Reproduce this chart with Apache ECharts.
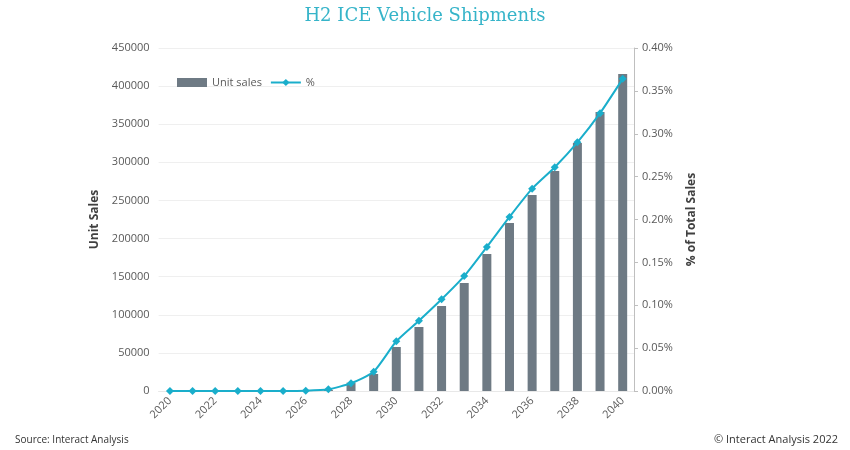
<!DOCTYPE html>
<html>
<head>
<meta charset="utf-8">
<script src="https://cdn.jsdelivr.net/npm/echarts@6/dist/echarts.min.js"></script>
<style>html,body{margin:0;padding:0;background:#fff}#c{width:850px;height:450px}</style>
</head>
<body>
<div id="c"></div>
<script>
const years = ['2020','2021','2022','2023','2024','2025','2026','2027','2028','2029','2030','2031','2032','2033','2034','2035','2036','2037','2038','2039','2040'];
const unitSales = [0,0,0,0,0,0,300,1500,10900,22300,57700,84000,111500,141700,179700,220400,257100,288600,325400,366000,415900];
const pctShare = [0,0,0,0,0,0,0.0003,0.002,0.009,0.0225,0.058,0.082,0.107,0.134,0.168,0.203,0.236,0.261,0.290,0.324,0.364];

const chart = echarts.init(document.getElementById('c'));
const font = '"Open Sans", sans-serif';
chart.setOption({
  animation: false,
  textStyle: {fontFamily: font},
  title: {
    text: 'H2 ICE Vehicle Shipments', left: 'center', top: 2,
    textStyle: {fontFamily: '"DejaVu Serif", serif', fontWeight: 'normal', fontSize: 18, color: '#36b4c9'}
  },
  graphic: [
    {type: 'text', left: 15, top: 435, style: {text: 'Source: Interact Analysis', font: '10px "Open Sans", sans-serif', fill: '#333'}},
    {type: 'text', right: 12, top: 434, style: {text: '© Interact Analysis 2022', font: '11px "Open Sans", sans-serif', fill: '#333'}}
  ],
  legend: {
    left: 172, top: 72, itemGap: 8, itemWidth: 30, itemHeight: 9,
    textStyle: {fontSize: 11, color: '#595959', fontFamily: font},
    data: [{name: 'Unit sales', icon: 'rect'}, {name: '%'}]
  },
  grid: {left: 158.6, right: 216, top: 48, bottom: 59},
  xAxis: {
    type: 'category', data: years,
    axisLine: {show: true, lineStyle: {color: '#e8e8e8'}},
    axisTick: {show: false},
    axisLabel: {interval: 1, rotate: 45, fontSize: 11, color: '#595959', margin: 8}
  },
  yAxis: [
    {
      type: 'value', min: 0, max: 450000, interval: 50000,
      name: 'Unit Sales', nameLocation: 'middle', nameGap: 37, nameRotate: 90,
      nameTextStyle: {fontWeight: 'bold', fontSize: 12, color: '#404040'},
      axisLine: {show: false}, axisTick: {show: false},
      axisLabel: {fontSize: 11, color: '#595959', margin: 9, formatter: v => String(v)},
      splitLine: {lineStyle: {color: '#efefef'}}
    },
    {
      type: 'value', min: 0, max: 0.4, interval: 0.05, position: 'right',
      name: '% of Total Sales', nameLocation: 'middle', nameGap: 52, nameRotate: 90,
      nameTextStyle: {fontWeight: 'bold', fontSize: 12, color: '#404040'},
      axisLine: {show: true, lineStyle: {color: '#bfbfbf'}},
      axisTick: {show: true, length: 4, lineStyle: {color: '#bfbfbf'}},
      axisLabel: {fontSize: 11, color: '#595959', margin: 8, formatter: v => v.toFixed(2) + '%'},
      splitLine: {show: false}
    }
  ],
  series: [
    {
      name: 'Unit sales', type: 'bar', data: unitSales, barWidth: 9,
      itemStyle: {color: '#6e7a84'}
    },
    {
      name: '%', type: 'line', yAxisIndex: 1, data: pctShare,
      symbol: 'diamond', symbolSize: 8, smooth: 0.2,
      lineStyle: {color: '#1aaecb', width: 2},
      itemStyle: {color: '#1aaecb'}
    }
  ]
});
</script>
</body>
</html>
